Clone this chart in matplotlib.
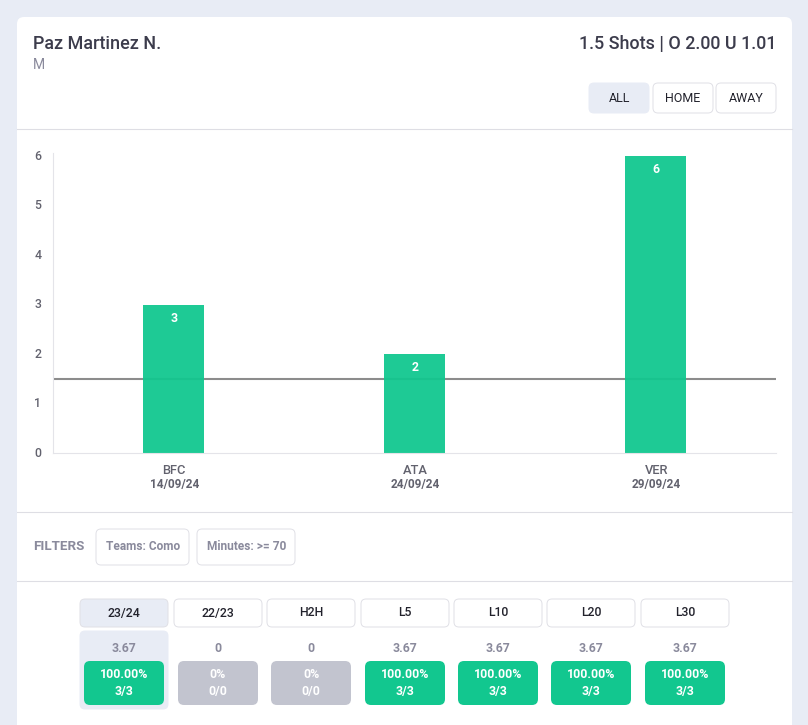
import matplotlib
matplotlib.use("Agg")
import matplotlib.pyplot as plt
from matplotlib.patches import FancyBboxPatch

plt.rcParams["font.family"] = ["Roboto", "DejaVu Sans"]

# chart data
teams = ["BFC", "ATA", "VER"]
dates = ["14/09/24", "24/09/24", "29/09/24"]
shots = [3, 2, 6]
shot_line = 1.5

# tabs below the chart
tabs = ["23/24", "22/23", "H2H", "L5", "L10", "L20", "L30"]
averages = ["3.67", "0", "0", "3.67", "3.67", "3.67", "3.67"]
percents = ["100.00%", "0%", "0%", "100.00%", "100.00%", "100.00%", "100.00%"]
hits = ["3/3", "0/0", "0/0", "3/3", "3/3", "3/3", "3/3"]
tab_left = [80, 174, 267, 361, 454, 547, 641]

filters = ["Teams: Como", "Minutes: >= 70"]
filter_left = [96, 197]
filter_right = [189, 295]

BG = "#e8ecf5"
BORDER = "#e0e0e6"
GREEN = "#12c78f"
GREY = "#c2c4cf"
MUTED = "#8a8a9c"
DARK = "#3c3c4c"


def box(ax, x0, y0, x1, y1, face="white", edge=BORDER, r=5, lw=0.7):
    ax.add_patch(FancyBboxPatch((x0, y0), x1 - x0, y1 - y0,
                                boxstyle=f"round,pad=0,rounding_size={r}",
                                fc=face, ec=edge, lw=lw))


fig = plt.figure(figsize=(8.08, 7.25), dpi=100, facecolor=BG)

# whole page in pixel coordinates
ui = fig.add_axes([0, 0, 1, 1])
ui.set_xlim(0, 808)
ui.set_ylim(725, 0)
ui.axis("off")

box(ui, 17, 17, 792, 760, edge="none", r=7, lw=0)

for y in [129, 512, 581]:
    ui.plot([17, 792], [y, y], color="#dedee4", lw=0.8)

# header
ui.text(33, 44, "Paz Martinez N.", fontsize=13, color=DARK, weight="medium", va="center", ha="left")
ui.text(33, 65, "M", fontsize=10, color=MUTED, va="center", ha="left")
ui.text(776, 44, "1.5 Shots | O 2.00 U 1.01", fontsize=12.9, color=DARK, weight="medium", va="center", ha="right")

box(ui, 589, 83, 649, 113, face=BG, edge=BG)
box(ui, 653, 83, 713, 113)
box(ui, 716, 83, 776, 113)
ui.text(619.5, 98, "ALL", fontsize=9, color="#22222c", ha="center", va="center")
ui.text(683, 98, "HOME", fontsize=9, color="#22222c", ha="center", va="center")
ui.text(746, 98, "AWAY", fontsize=9, color="#22222c", ha="center", va="center")

# filters
ui.text(33, 546.5, "FILTERS", fontsize=9.6, color=MUTED, weight="bold", ha="left", va="center")
for name, x0, x1 in zip(filters, filter_left, filter_right):
    box(ui, x0, 529, x1, 565)
    ui.text((x0 + x1) / 2 + 0.5, 547, name, fontsize=8.6, color=MUTED, weight="bold", ha="center", va="center")

# tabs and hit rate badges
box(ui, tab_left[0], 631, tab_left[0] + 88, 709, face=BG, edge=BG)
for i, name in enumerate(tabs):
    x0 = tab_left[i]
    mid = x0 + 44
    box(ui, x0, 599, x0 + 88, 627, face=BG if i == 0 else "white")
    ui.text(mid, 613, name, fontsize=8.8, color="#22222c", weight="medium", ha="center", va="center")
    ui.text(mid, 648, averages[i], fontsize=8.8, color=MUTED, weight="bold", ha="center", va="center")
    face = GREEN if hits[i] != "0/0" else GREY
    box(ui, x0 + 4, 661, x0 + 84, 705, face=face, edge=face, r=6, lw=0)
    ui.text(mid, 674, percents[i], fontsize=8.8, color="white", weight="bold", ha="center", va="center")
    ui.text(mid, 691, hits[i], fontsize=8.8, color="white", weight="bold", ha="center", va="center")

# bar chart, axes placed on the page in pixels
left, right, top, bottom = 53, 776, 153, 453
ax = fig.add_axes([left / 808, 1 - bottom / 725, (right - left) / 808, (bottom - top) / 725])
ax.patch.set_alpha(0)
xs = list(range(len(teams)))
# line sits behind the slightly see-through bars
ax.axhline(shot_line, color="#8c8c8c", lw=1.5, zorder=1)
ax.bar(xs, shots, width=0.25, color=GREEN, alpha=0.95, zorder=2)
ax.set_xlim(-0.5, 2.5)
ax.set_ylim(0, 300 / 49.5)
ax.set_yticks(range(7))
ax.set_yticklabels([])
ax.tick_params(axis="y", length=0)
ax.set_xticks(xs)
ax.set_xticklabels([])
ax.tick_params(axis="x", length=0)
for s in ["top", "right"]:
    ax.spines[s].set_visible(False)
for s in ["left", "bottom"]:
    ax.spines[s].set_color("#e4e4e9")
    ax.spines[s].set_linewidth(0.8)
for v in range(7):
    ax.annotate(str(v), (0, v), xycoords=("axes fraction", "data"), xytext=(-8.5, 0),
                textcoords="offset points", color="#62626e", fontsize=8.8, weight="medium",
                ha="right", va="center", annotation_clip=False)
for x, v, team, date in zip(xs, shots, teams, dates):
    ax.annotate(str(v), (x, v), xytext=(0.5, -10), textcoords="offset points", color="white",
                fontsize=8.8, weight="bold", ha="center", va="center", zorder=3)
    ax.annotate(team, (x, 0), xytext=(0.5, -12.5), textcoords="offset points", color="#62626e",
                fontsize=9.3, weight="medium", ha="center", va="center", annotation_clip=False)
    ax.annotate(date, (x, 0), xytext=(0.5, -23), textcoords="offset points", color="#62626e",
                fontsize=8.5, weight="bold", ha="center", va="center", annotation_clip=False)

fig.savefig("out.png", dpi=100, facecolor=BG)
